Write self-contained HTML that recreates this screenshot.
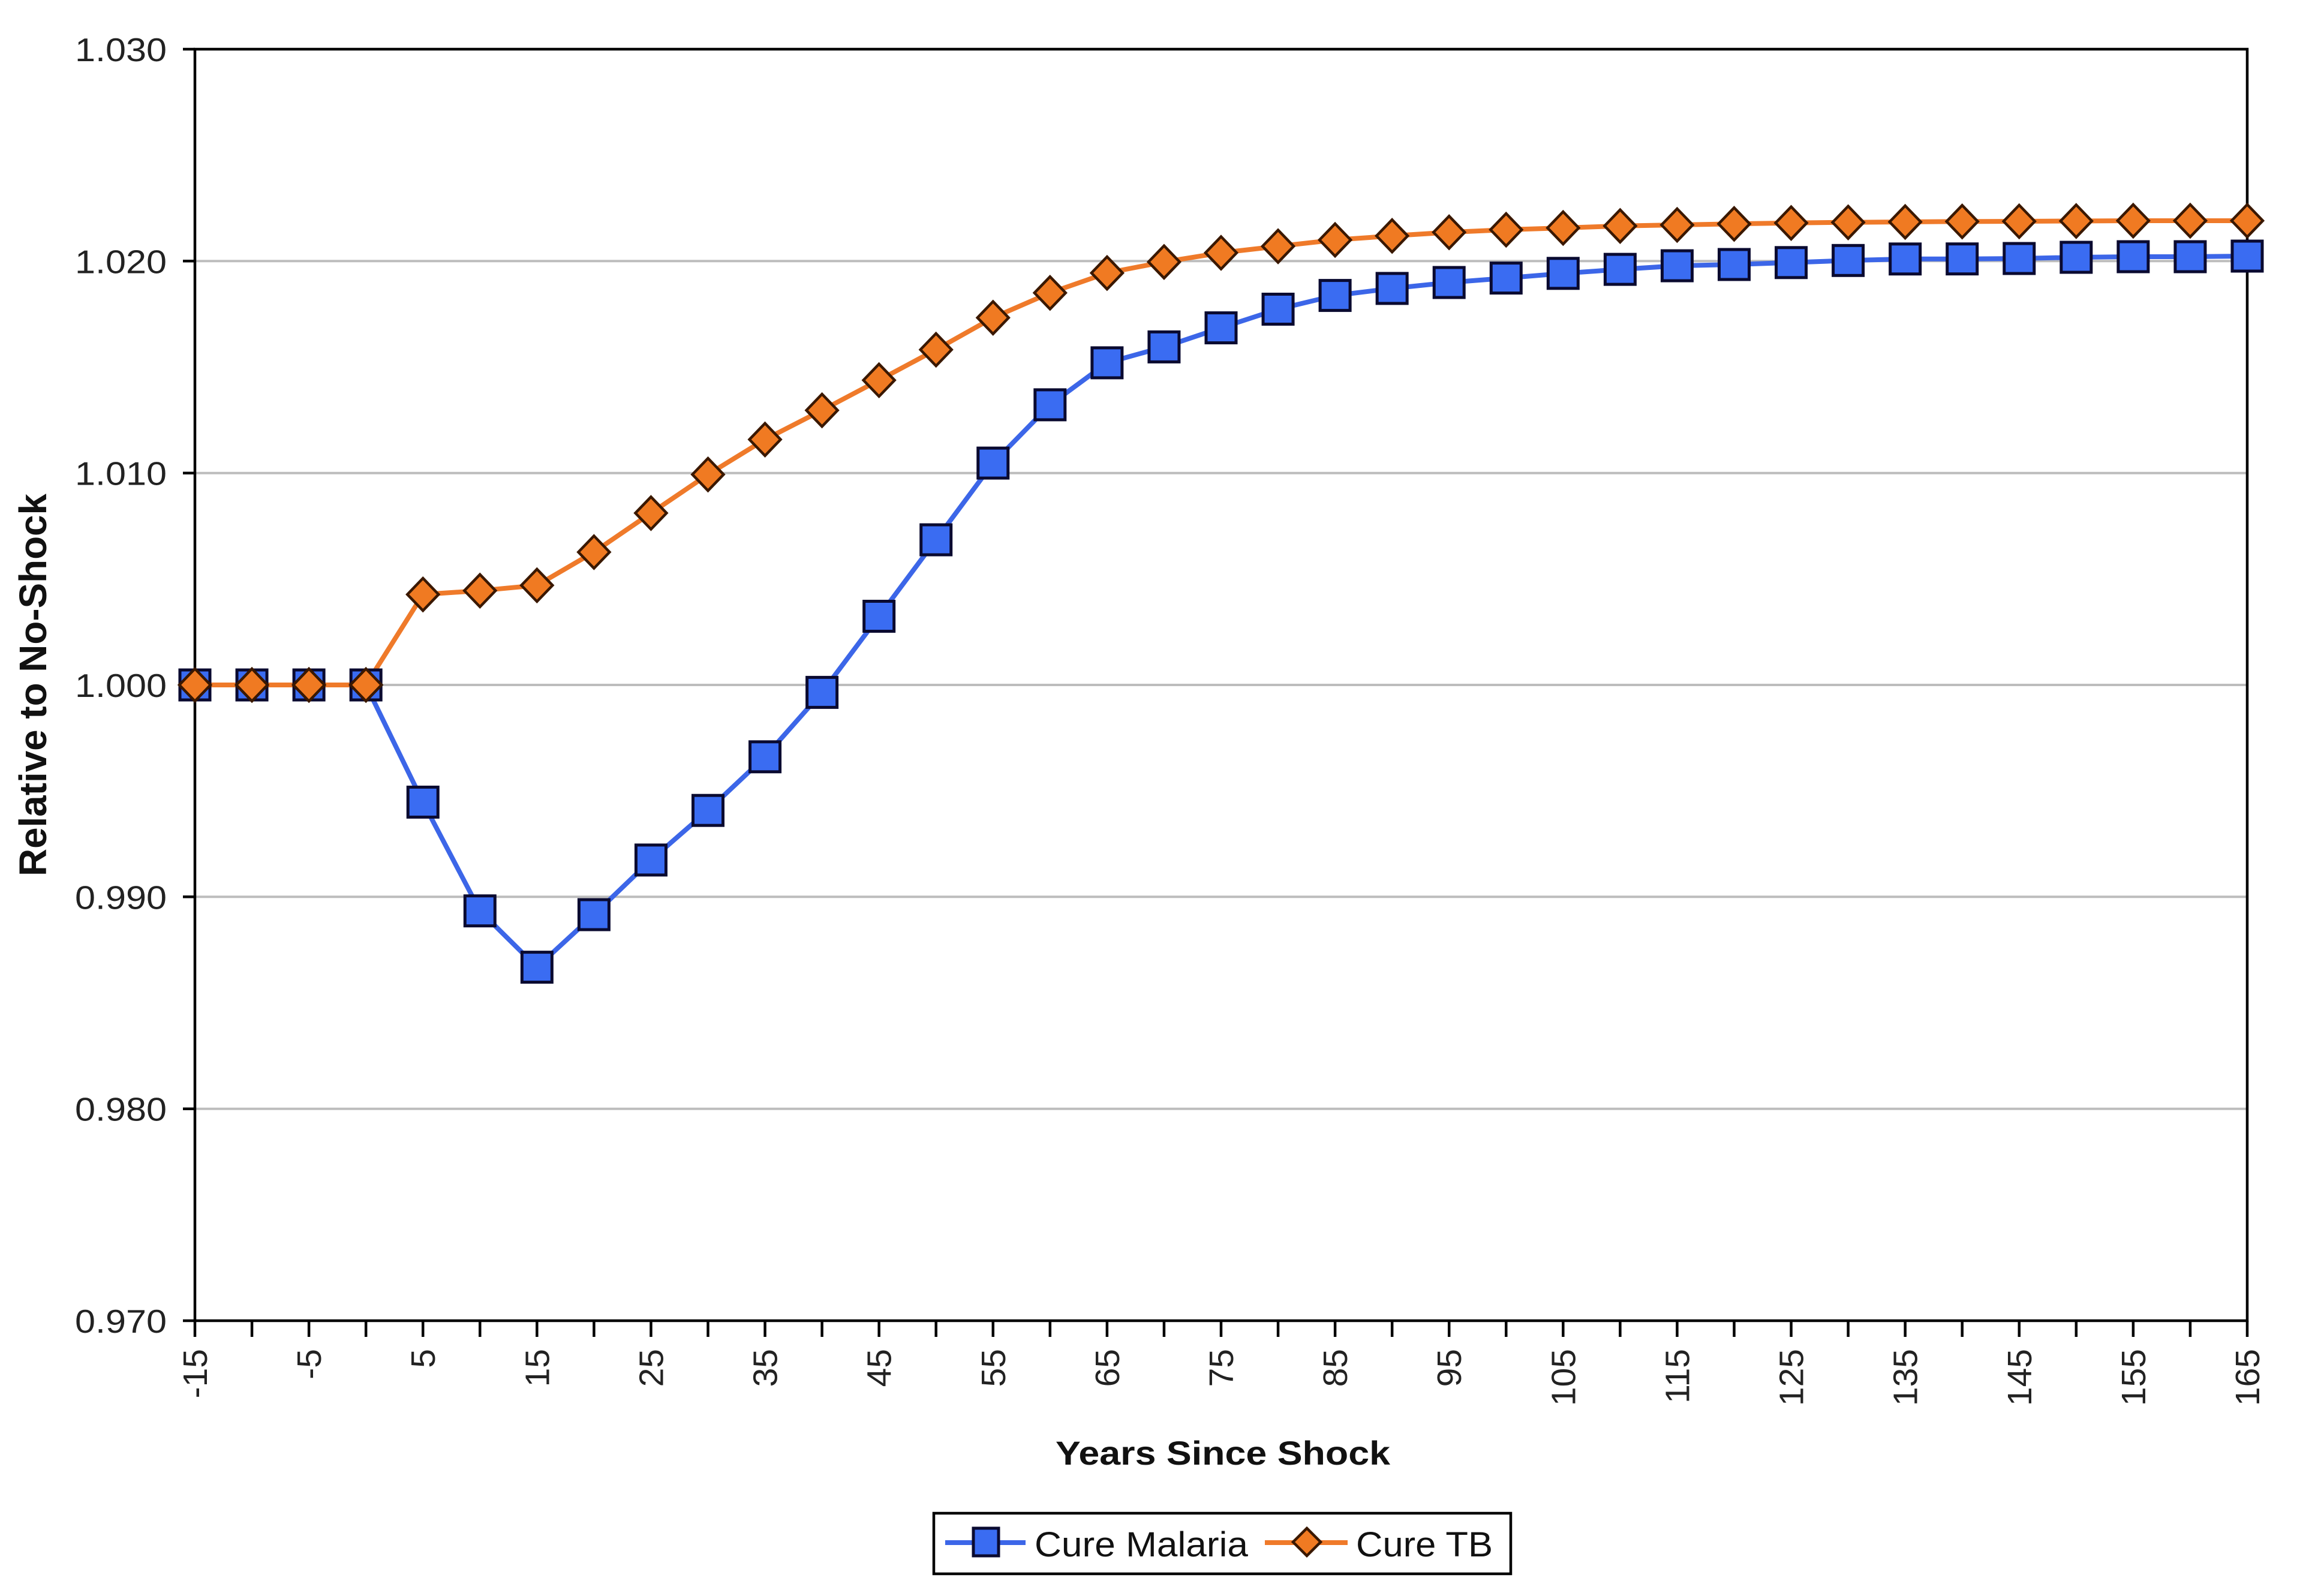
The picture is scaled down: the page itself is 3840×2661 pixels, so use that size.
<!DOCTYPE html>
<html>
<head>
<meta charset="utf-8">
<style>
html,body{margin:0;padding:0;background:#fff;}
svg{display:block;}
</style>
</head>
<body>
<svg width="3840" height="2661" viewBox="0 0 3840 2661" xmlns="http://www.w3.org/2000/svg">
<defs>
<rect id="sq" x="-25" y="-25" width="50" height="50" fill="#3a6cf2" stroke="#0a0a30" stroke-width="5"/>
<path id="dm" d="M0,-27 L26,0 L0,27 L-26,0Z" fill="#f07a22" stroke="#3a1800" stroke-width="4.5"/>
</defs>
<rect x="0" y="0" width="3840" height="2661" fill="#fff"/>

<!-- gridlines -->
<g stroke="#bdbdbd" stroke-width="4">
<line x1="325" y1="435.3" x2="3747" y2="435.3"/>
<line x1="325" y1="788.7" x2="3747" y2="788.7"/>
<line x1="325" y1="1142" x2="3747" y2="1142"/>
<line x1="325" y1="1495.3" x2="3747" y2="1495.3"/>
<line x1="325" y1="1848.7" x2="3747" y2="1848.7"/>
</g>

<!-- frame -->
<rect x="325" y="82" width="3422" height="2120" fill="none" stroke="#000" stroke-width="4.5"/>

<!-- y ticks -->
<g stroke="#000" stroke-width="4.5">
<line x1="305" y1="82" x2="325" y2="82"/>
<line x1="305" y1="435.3" x2="325" y2="435.3"/>
<line x1="305" y1="788.7" x2="325" y2="788.7"/>
<line x1="305" y1="1142" x2="325" y2="1142"/>
<line x1="305" y1="1495.3" x2="325" y2="1495.3"/>
<line x1="305" y1="1848.7" x2="325" y2="1848.7"/>
<line x1="305" y1="2202" x2="325" y2="2202"/>
</g>

<!-- x ticks -->
<g stroke="#000" stroke-width="4.5">
<line x1="325" y1="2202" x2="325" y2="2229"/>
<line x1="420.06" y1="2202" x2="420.06" y2="2229"/>
<line x1="515.11" y1="2202" x2="515.11" y2="2229"/>
<line x1="610.17" y1="2202" x2="610.17" y2="2229"/>
<line x1="705.22" y1="2202" x2="705.22" y2="2229"/>
<line x1="800.28" y1="2202" x2="800.28" y2="2229"/>
<line x1="895.33" y1="2202" x2="895.33" y2="2229"/>
<line x1="990.39" y1="2202" x2="990.39" y2="2229"/>
<line x1="1085.44" y1="2202" x2="1085.44" y2="2229"/>
<line x1="1180.5" y1="2202" x2="1180.5" y2="2229"/>
<line x1="1275.56" y1="2202" x2="1275.56" y2="2229"/>
<line x1="1370.61" y1="2202" x2="1370.61" y2="2229"/>
<line x1="1465.67" y1="2202" x2="1465.67" y2="2229"/>
<line x1="1560.72" y1="2202" x2="1560.72" y2="2229"/>
<line x1="1655.78" y1="2202" x2="1655.78" y2="2229"/>
<line x1="1750.83" y1="2202" x2="1750.83" y2="2229"/>
<line x1="1845.89" y1="2202" x2="1845.89" y2="2229"/>
<line x1="1940.94" y1="2202" x2="1940.94" y2="2229"/>
<line x1="2036" y1="2202" x2="2036" y2="2229"/>
<line x1="2131.06" y1="2202" x2="2131.06" y2="2229"/>
<line x1="2226.11" y1="2202" x2="2226.11" y2="2229"/>
<line x1="2321.17" y1="2202" x2="2321.17" y2="2229"/>
<line x1="2416.22" y1="2202" x2="2416.22" y2="2229"/>
<line x1="2511.28" y1="2202" x2="2511.28" y2="2229"/>
<line x1="2606.33" y1="2202" x2="2606.33" y2="2229"/>
<line x1="2701.39" y1="2202" x2="2701.39" y2="2229"/>
<line x1="2796.44" y1="2202" x2="2796.44" y2="2229"/>
<line x1="2891.5" y1="2202" x2="2891.5" y2="2229"/>
<line x1="2986.56" y1="2202" x2="2986.56" y2="2229"/>
<line x1="3081.61" y1="2202" x2="3081.61" y2="2229"/>
<line x1="3176.67" y1="2202" x2="3176.67" y2="2229"/>
<line x1="3271.72" y1="2202" x2="3271.72" y2="2229"/>
<line x1="3366.78" y1="2202" x2="3366.78" y2="2229"/>
<line x1="3461.83" y1="2202" x2="3461.83" y2="2229"/>
<line x1="3556.89" y1="2202" x2="3556.89" y2="2229"/>
<line x1="3651.94" y1="2202" x2="3651.94" y2="2229"/>
<line x1="3747" y1="2202" x2="3747" y2="2229"/>
</g>

<!-- y tick labels -->
<g font-family="'Liberation Sans', Arial, sans-serif" font-size="55" fill="#222" text-anchor="end">
<text x="278" y="102" textLength="153" lengthAdjust="spacingAndGlyphs">1.030</text>
<text x="278" y="455.3" textLength="153" lengthAdjust="spacingAndGlyphs">1.020</text>
<text x="278" y="808.7" textLength="153" lengthAdjust="spacingAndGlyphs">1.010</text>
<text x="278" y="1162" textLength="153" lengthAdjust="spacingAndGlyphs">1.000</text>
<text x="278" y="1515.3" textLength="153" lengthAdjust="spacingAndGlyphs">0.990</text>
<text x="278" y="1868.7" textLength="153" lengthAdjust="spacingAndGlyphs">0.980</text>
<text x="278" y="2222" textLength="153" lengthAdjust="spacingAndGlyphs">0.970</text>
</g>

<!-- x tick labels -->
<g font-family="'Liberation Sans', Arial, sans-serif" font-size="57" fill="#222" text-anchor="end">
<text transform="translate(345,2249) rotate(-90)">-15</text>
<text transform="translate(535.11,2249) rotate(-90)">-5</text>
<text transform="translate(725.22,2249) rotate(-90)">5</text>
<text transform="translate(915.33,2249) rotate(-90)">15</text>
<text transform="translate(1105.44,2249) rotate(-90)">25</text>
<text transform="translate(1295.56,2249) rotate(-90)">35</text>
<text transform="translate(1485.67,2249) rotate(-90)">45</text>
<text transform="translate(1675.78,2249) rotate(-90)">55</text>
<text transform="translate(1865.89,2249) rotate(-90)">65</text>
<text transform="translate(2056,2249) rotate(-90)">75</text>
<text transform="translate(2246.11,2249) rotate(-90)">85</text>
<text transform="translate(2436.22,2249) rotate(-90)">95</text>
<text transform="translate(2626.33,2249) rotate(-90)">105</text>
<text transform="translate(2816.44,2249) rotate(-90)">115</text>
<text transform="translate(3006.56,2249) rotate(-90)">125</text>
<text transform="translate(3196.67,2249) rotate(-90)">135</text>
<text transform="translate(3386.78,2249) rotate(-90)">145</text>
<text transform="translate(3576.89,2249) rotate(-90)">155</text>
<text transform="translate(3767,2249) rotate(-90)">165</text>
</g>

<!-- axis titles -->
<text transform="translate(77,1142) rotate(-90)" font-family="'Liberation Sans', Arial, sans-serif" font-weight="bold" font-size="64" fill="#111" text-anchor="middle" textLength="638" lengthAdjust="spacingAndGlyphs">Relative to No-Shock</text>
<text x="2039" y="2442" font-family="'Liberation Sans', Arial, sans-serif" font-weight="bold" font-size="56" fill="#111" text-anchor="middle" textLength="558" lengthAdjust="spacingAndGlyphs">Years Since Shock</text>

<!-- Malaria line -->
<polyline fill="none" stroke="#3c66e8" stroke-width="8" stroke-linejoin="round" points="325,1142 420.06,1142 515.11,1142 610.17,1142 705.22,1337.4 800.28,1518.7 895.33,1612.6 990.39,1525 1085.44,1433.9 1180.5,1351.2 1275.56,1261.8 1370.61,1154.4 1465.67,1027.5 1560.72,900 1655.78,772.1 1750.83,674.9 1845.89,604.9 1940.94,578.4 2036,546.6 2131.06,515.5 2226.11,492.6 2321.17,480.9 2416.22,471 2511.28,463.6 2606.33,455.8 2701.39,449.1 2796.44,443.1 2891.5,441 2986.56,437.8 3081.61,434.3 3176.67,431.8 3271.72,431.7 3366.78,431 3461.83,429 3556.89,428 3651.94,428 3747,427"/>

<!-- TB line -->
<polyline fill="none" stroke="#ef7a2a" stroke-width="8" stroke-linejoin="round" points="325,1142 420.06,1142 515.11,1142 610.17,1142 705.22,991.1 800.28,984.8 895.33,975.9 990.39,920.5 1085.44,855.4 1180.5,791.1 1275.56,732.8 1370.61,684.1 1465.67,633.9 1560.72,583 1655.78,529.7 1750.83,488.3 1845.89,455.1 1940.94,436.7 2036,421.5 2131.06,410.6 2226.11,400 2321.17,393.3 2416.22,387.3 2511.28,383 2606.33,380 2701.39,376.7 2796.44,375 2891.5,373.3 2986.56,371.7 3081.61,370.7 3176.67,370 3271.72,369.3 3366.78,369 3461.83,368.5 3556.89,368 3651.94,368 3747,368"/>

<!-- Malaria markers -->
<g>
<use href="#sq" x="325" y="1142"/>
<use href="#sq" x="420.06" y="1142"/>
<use href="#sq" x="515.11" y="1142"/>
<use href="#sq" x="610.17" y="1142"/>
<use href="#sq" x="705.22" y="1337.4"/>
<use href="#sq" x="800.28" y="1518.7"/>
<use href="#sq" x="895.33" y="1612.6"/>
<use href="#sq" x="990.39" y="1525"/>
<use href="#sq" x="1085.44" y="1433.9"/>
<use href="#sq" x="1180.5" y="1351.2"/>
<use href="#sq" x="1275.56" y="1261.8"/>
<use href="#sq" x="1370.61" y="1154.4"/>
<use href="#sq" x="1465.67" y="1027.5"/>
<use href="#sq" x="1560.72" y="900"/>
<use href="#sq" x="1655.78" y="772.1"/>
<use href="#sq" x="1750.83" y="674.9"/>
<use href="#sq" x="1845.89" y="604.9"/>
<use href="#sq" x="1940.94" y="578.4"/>
<use href="#sq" x="2036" y="546.6"/>
<use href="#sq" x="2131.06" y="515.5"/>
<use href="#sq" x="2226.11" y="492.6"/>
<use href="#sq" x="2321.17" y="480.9"/>
<use href="#sq" x="2416.22" y="471"/>
<use href="#sq" x="2511.28" y="463.6"/>
<use href="#sq" x="2606.33" y="455.8"/>
<use href="#sq" x="2701.39" y="449.1"/>
<use href="#sq" x="2796.44" y="443.1"/>
<use href="#sq" x="2891.5" y="441"/>
<use href="#sq" x="2986.56" y="437.8"/>
<use href="#sq" x="3081.61" y="434.3"/>
<use href="#sq" x="3176.67" y="431.8"/>
<use href="#sq" x="3271.72" y="431.7"/>
<use href="#sq" x="3366.78" y="431"/>
<use href="#sq" x="3461.83" y="429"/>
<use href="#sq" x="3556.89" y="428"/>
<use href="#sq" x="3651.94" y="428"/>
<use href="#sq" x="3747" y="427"/>
</g>

<!-- TB markers -->
<g>
<use href="#dm" x="325" y="1142"/>
<use href="#dm" x="420.06" y="1142"/>
<use href="#dm" x="515.11" y="1142"/>
<use href="#dm" x="610.17" y="1142"/>
<use href="#dm" x="705.22" y="991.1"/>
<use href="#dm" x="800.28" y="984.8"/>
<use href="#dm" x="895.33" y="975.9"/>
<use href="#dm" x="990.39" y="920.5"/>
<use href="#dm" x="1085.44" y="855.4"/>
<use href="#dm" x="1180.5" y="791.1"/>
<use href="#dm" x="1275.56" y="732.8"/>
<use href="#dm" x="1370.61" y="684.1"/>
<use href="#dm" x="1465.67" y="633.9"/>
<use href="#dm" x="1560.72" y="583"/>
<use href="#dm" x="1655.78" y="529.7"/>
<use href="#dm" x="1750.83" y="488.3"/>
<use href="#dm" x="1845.89" y="455.1"/>
<use href="#dm" x="1940.94" y="436.7"/>
<use href="#dm" x="2036" y="421.5"/>
<use href="#dm" x="2131.06" y="410.6"/>
<use href="#dm" x="2226.11" y="400"/>
<use href="#dm" x="2321.17" y="393.3"/>
<use href="#dm" x="2416.22" y="387.3"/>
<use href="#dm" x="2511.28" y="383"/>
<use href="#dm" x="2606.33" y="380"/>
<use href="#dm" x="2701.39" y="376.7"/>
<use href="#dm" x="2796.44" y="375"/>
<use href="#dm" x="2891.5" y="373.3"/>
<use href="#dm" x="2986.56" y="371.7"/>
<use href="#dm" x="3081.61" y="370.7"/>
<use href="#dm" x="3176.67" y="370"/>
<use href="#dm" x="3271.72" y="369.3"/>
<use href="#dm" x="3366.78" y="369"/>
<use href="#dm" x="3461.83" y="368.5"/>
<use href="#dm" x="3556.89" y="368"/>
<use href="#dm" x="3651.94" y="368"/>
<use href="#dm" x="3747" y="368"/>
</g>

<!-- legend -->
<rect x="1557" y="2523" width="962" height="101" fill="#fff" stroke="#000" stroke-width="4.5"/>
<line x1="1576" y1="2572" x2="1710" y2="2572" stroke="#3c66e8" stroke-width="8"/>
<rect x="1623" y="2548" width="42" height="46" fill="#3a6cf2" stroke="#0a0a30" stroke-width="5"/>
<text x="1725" y="2595" font-family="'Liberation Sans', Arial, sans-serif" font-size="58" fill="#111" textLength="356" lengthAdjust="spacingAndGlyphs">Cure Malaria</text>
<line x1="2109" y1="2572" x2="2247" y2="2572" stroke="#ef7a2a" stroke-width="8"/>
<path d="M2179,2548 L2202,2571 L2179,2594 L2156,2571Z" fill="#f07a22" stroke="#3a1800" stroke-width="4.5"/>
<text x="2261" y="2595" font-family="'Liberation Sans', Arial, sans-serif" font-size="58" fill="#111" textLength="228" lengthAdjust="spacingAndGlyphs">Cure TB</text>
</svg>
</body>
</html>
